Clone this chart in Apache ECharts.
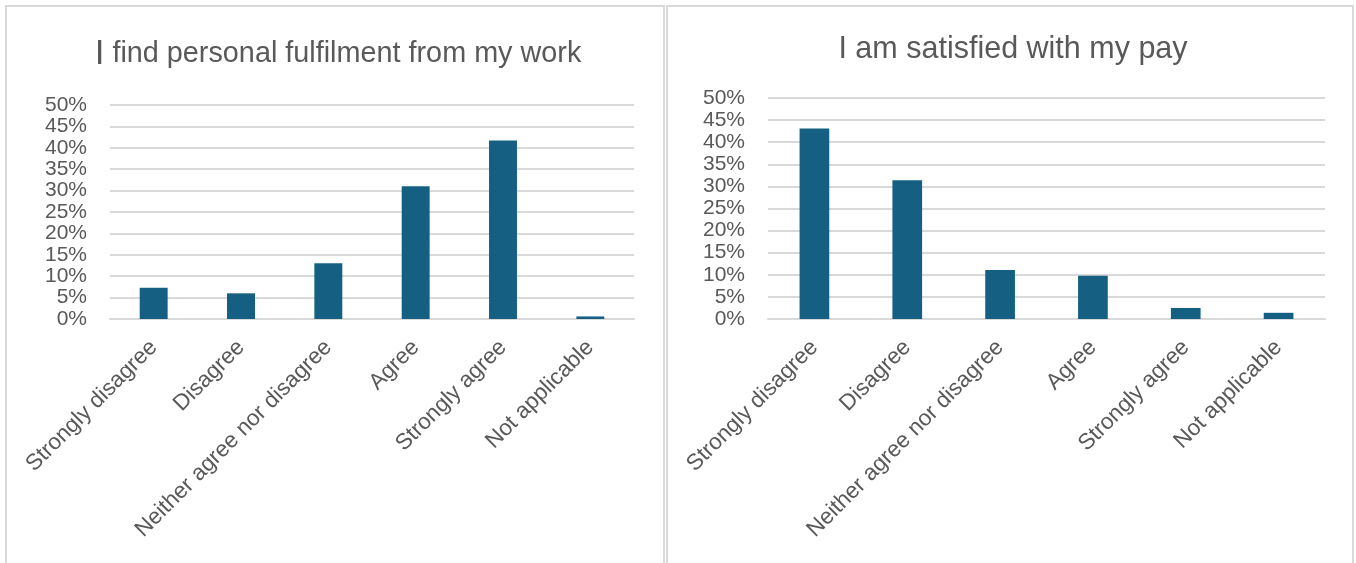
<!DOCTYPE html>
<html>
<head>
<meta charset="utf-8">
<script src="https://cdn.jsdelivr.net/npm/echarts@6/dist/echarts.min.js"></script>
<style>
  html, body { margin: 0; padding: 0; background: #ffffff; }
  #chart { width: 1356px; height: 563px; }
</style>
</head>
<body>
<div id="chart"></div>
<script>
// Survey response categories shared by both questions
const categories = ['Strongly disagree', 'Disagree', 'Neither agree nor disagree', 'Agree', 'Strongly agree', 'Not applicable'];

// Share of respondents per answer (fractions)
const fulfilmentValues = [0.073, 0.060, 0.130, 0.310, 0.417, 0.006];
const payValues = [0.431, 0.314, 0.111, 0.098, 0.025, 0.014];

// Chart titles
const fulfilmentTitle = 'find personal fulfilment from my work';
const payTitle = 'I am satisfied with my pay';

const textColor = '#595959';
const gridColor = '#D9D9D9';
const barColor = '#156082';
const fontFamily = '"Liberation Sans", Arial, sans-serif';

function pct(v) { return Math.round(v * 100) + '%'; }

function xAxis(gridIndex) {
  return {
    type: 'category',
    gridIndex: gridIndex,
    data: categories,
    axisLine: { show: true, lineStyle: { color: gridColor, width: 2 } },
    axisTick: { show: false },
    axisLabel: {
      rotate: 45,
      interval: 0,
      margin: 25,
      color: textColor,
      fontSize: 22.5,
      fontFamily: fontFamily
    }
  };
}

function yAxis(gridIndex) {
  return {
    type: 'value',
    gridIndex: gridIndex,
    min: 0,
    max: 0.5,
    interval: 0.05,
    axisLine: { show: false },
    axisTick: { show: false },
    splitLine: { lineStyle: { color: gridColor, width: 2 } },
    axisLabel: {
      margin: 23,
      color: textColor,
      fontSize: 21,
      fontFamily: fontFamily,
      formatter: pct
    }
  };
}

const chart = echarts.init(document.getElementById('chart'));
chart.setOption({
  animation: false,
  backgroundColor: '#ffffff',
  graphic: [
    { type: 'rect', shape: { x: 6, y: 6, width: 658, height: 570 }, style: { fill: 'none', stroke: gridColor, lineWidth: 2 } },
    { type: 'rect', shape: { x: 667, y: 6, width: 686, height: 570 }, style: { fill: 'none', stroke: gridColor, lineWidth: 2 } }
  ],
  title: [
    {
      text: '{big|I} ' + fulfilmentTitle,
      left: 333, top: 32, textAlign: 'center',
      textStyle: {
        color: textColor, fontSize: 28.8, fontWeight: 'normal', fontFamily: fontFamily,
        rich: { big: { fontSize: 35, color: textColor, fontFamily: fontFamily } }
      }
    },
    {
      text: payTitle,
      left: 1008, top: 29, textAlign: 'center',
      textStyle: { color: textColor, fontSize: 30.5, fontWeight: 'normal', fontFamily: fontFamily }
    }
  ],
  grid: [
    { left: 110, right: 722, top: 105, bottom: 244 },
    { left: 768, right: 31, top: 98, bottom: 244 }
  ],
  xAxis: [xAxis(0), xAxis(1)],
  yAxis: [yAxis(0), yAxis(1)],
  series: [
    {
      type: 'bar', xAxisIndex: 0, yAxisIndex: 0,
      data: fulfilmentValues, barWidth: '32%',
      itemStyle: { color: barColor }
    },
    {
      type: 'bar', xAxisIndex: 1, yAxisIndex: 1,
      data: payValues, barWidth: '32%',
      itemStyle: { color: barColor }
    }
  ]
});
</script>
</body>
</html>
